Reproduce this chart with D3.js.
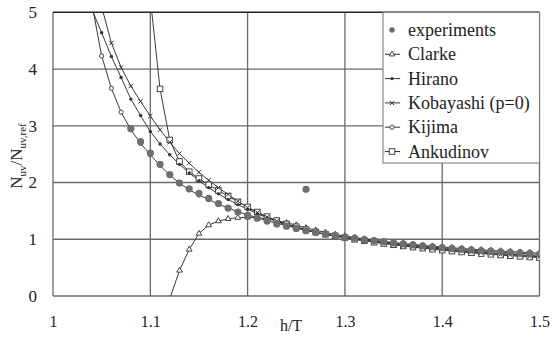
<!DOCTYPE html>
<html><head><meta charset="utf-8">
<script src="https://cdn.jsdelivr.net/npm/d3@7"></script>
<style>
html,body{margin:0;padding:0;background:#fff;}
svg{display:block;}
text{font-family:"Liberation Serif","DejaVu Serif",serif;fill:#222;}
</style></head>
<body>
<svg id="chart" width="553" height="342"></svg>
<script>
// ---- data ----
const hT = [1.04,1.05,1.06,1.07,1.08,1.09,1.10,1.11,1.12,1.13,
            1.14,1.15,1.16,1.17,1.18,1.19,1.20,1.21,1.22,1.23,
            1.24,1.25,1.26,1.27,1.28,1.29,1.30,1.31,1.32,1.33,
            1.34,1.35,1.36,1.37,1.38,1.39,1.40,1.41,1.42,1.43,
            1.44,1.45,1.46,1.47,1.48,1.49,1.50];
const experiments = [null,null,null,null,2.95,2.72,2.52,2.32,2.14,1.99,
  1.89,1.81,1.72,1.63,1.55,1.48,1.42,1.37,1.32,1.27,
  1.23,1.19,1.15,1.12,1.09,1.06,1.04,1.02,0.995,0.975,
  0.955,0.935,0.918,0.9,0.883,0.868,0.853,0.84,0.826,0.814,
  0.802,0.79,0.78,0.77,0.76,0.75,0.74];
const outlierH = [1.26];
const outlierN = [1.88];
const clarke = [null,null,null,null,null,null,null,null,-0.05,0.45,
  0.82,1.1,1.25,1.32,1.36,1.38,1.385,1.38,1.36,1.33,
  1.29,1.25,1.2,1.16,1.12,1.085,1.055,1.03,1.005,0.983,
  0.962,0.943,0.925,0.908,0.892,0.877,0.863,0.85,0.837,0.825,
  0.814,0.803,0.793,0.783,0.774,0.765,0.757];
const hirano = [5.05,4.64,4.22,3.85,3.47,3.18,2.9,2.68,2.49,2.32,
  2.17,2.03,1.91,1.8,1.7,1.61,1.53,1.45,1.38,1.31,
  1.25,1.2,1.16,1.12,1.085,1.055,1.03,1.005,0.98,0.958,
  0.937,0.917,0.898,0.88,0.862,0.845,0.83,0.815,0.8,0.786,
  0.773,0.76,0.748,0.736,0.725,0.714,0.704];
const kobayashi = [null,5.1,4.46,4.03,3.7,3.43,3.17,2.93,2.71,2.51,
  2.34,2.18,2.04,1.91,1.79,1.67,1.56,1.47,1.39,1.32,
  1.26,1.21,1.16,1.12,1.085,1.055,1.03,1.0,0.975,0.952,
  0.93,0.91,0.89,0.871,0.853,0.836,0.82,0.804,0.789,0.775,
  0.761,0.748,0.736,0.724,0.713,0.702,0.692];
const kijima = [5.15,4.23,3.66,3.24,2.93,2.69,2.49,2.3,2.13,1.99,
  1.87,1.78,1.7,1.62,1.55,1.49,1.43,1.38,1.33,1.28,
  1.24,1.2,1.16,1.12,1.09,1.06,1.04,1.015,0.99,0.97,
  0.95,0.93,0.91,0.895,0.878,0.862,0.847,0.833,0.82,0.807,
  0.795,0.783,0.772,0.762,0.752,0.743,0.735];
const ankudinov = [null,null,null,null,null,null,5.25,3.65,2.75,2.37,
  2.19,2.07,1.96,1.86,1.76,1.66,1.57,1.48,1.4,1.33,
  1.27,1.22,1.17,1.13,1.09,1.06,1.03,1.0,0.973,0.948,
  0.925,0.903,0.882,0.862,0.843,0.825,0.808,0.792,0.776,0.762,
  0.748,0.735,0.722,0.71,0.699,0.688,0.678];
const xTicks = [1,1.1,1.2,1.3,1.4,1.5];
const xTickLabels = ["1","1.1","1.2","1.3","1.4","1.5"];
const yTicks = [0,1,2,3,4,5];
const legendNames = ["experiments","Clarke","Hirano","Kobayashi (p=0)","Kijima","Ankudinov"];

// ---- layout ----
const FONT = "'Liberation Serif','DejaVu Serif',serif";
const svg = d3.select("#chart").attr("font-family",FONT);
const L = 53, R = 539.5, T = 12.3, B = 296;
const x = d3.scaleLinear().domain([1,1.5]).range([L,R]);
const y = d3.scaleLinear().domain([0,5]).range([B,T]);

svg.append("defs").append("clipPath").attr("id","clip")
  .append("rect").attr("x",L).attr("y",T).attr("width",R-L).attr("height",B-T);

// grid
const grid = svg.append("g");
grid.selectAll(".gx").data(xTicks).join("line")
  .attr("x1",d=>x(d)).attr("x2",d=>x(d)).attr("y1",T).attr("y2",B)
  .attr("stroke","#6a6a6a").attr("stroke-width",1.3);
grid.selectAll(".gy").data(yTicks).join("line")
  .attr("x1",L).attr("x2",R).attr("y1",d=>y(d)).attr("y2",d=>y(d))
  .attr("stroke",d=>d===5?"#222":"#6a6a6a").attr("stroke-width",d=>d===5?1.5:1.3);

// axes (labels only)
const xAxis = d3.axisBottom(x).tickValues(xTicks).tickSize(0).tickPadding(20)
  .tickFormat((d,i)=>xTickLabels[i]);
const gx = svg.append("g").attr("transform",`translate(0,${B})`).call(xAxis)
  .attr("font-family",FONT);
gx.select(".domain").remove();
gx.selectAll("text").attr("font-size",16).style("font-family",FONT).attr("fill","#222");
const yAxis = d3.axisLeft(y).tickValues(yTicks).tickSize(0).tickPadding(16).tickFormat(d3.format("d"));
const gy = svg.append("g").attr("transform",`translate(${L},0)`).call(yAxis)
  .attr("font-family",FONT);
gy.select(".domain").remove();
gy.selectAll("text").attr("font-size",17).style("font-family",FONT).attr("fill","#222");

// axis titles
svg.append("text").attr("x",291).attr("y",331).attr("text-anchor","middle")
  .attr("font-size",16).style("font-family",FONT).text("h/T");
const yt = svg.append("text").attr("transform","translate(22,156) rotate(-90)")
  .attr("text-anchor","middle").attr("font-size",17).style("font-family",FONT);
yt.append("tspan").text("N");
yt.append("tspan").attr("font-size",11).attr("dy",4).text("uv");
yt.append("tspan").attr("dy",-4).text("/N");
yt.append("tspan").attr("font-size",11).attr("dy",4).text("uv,ref");

// series
const plot = svg.append("g").attr("clip-path","url(#clip)");
const lineGen = d3.line().defined(d=>d[1]!==null).x(d=>x(d[0])).y(d=>y(d[1]));
function pts(vals){ return hT.map((h,i)=>[h,vals[i]]); }
function inside(d){ return d[1]!==null && d[1]>=0 && d[1]<=5; }

const marker = {
  triangle: (g)=>g.append("path").attr("d",d3.symbol(d3.symbolTriangle,14)()).attr("fill","#fff").attr("stroke","#333").attr("stroke-width",0.9),
  dot: (g)=>g.append("circle").attr("r",1.7).attr("fill","#333"),
  cross: (g)=>g.append("path").attr("d","M-2.1,-2.1L2.1,2.1M-2.1,2.1L2.1,-2.1").attr("stroke","#333").attr("stroke-width",1),
  circle: (g)=>g.append("circle").attr("r",2.1).attr("fill","#fff").attr("stroke","#333").attr("stroke-width",0.9),
  square: (g)=>g.append("rect").attr("x",-2.8).attr("y",-2.8).attr("width",5.6).attr("height",5.6).attr("fill","#fff").attr("stroke","#333").attr("stroke-width",0.9),
  grey: (g)=>g.append("circle").attr("r",3.6).attr("fill","#6f6f6f")
};

const series = [
  {vals:clarke, m:"triangle"},
  {vals:ankudinov, m:"square"},
  {vals:kobayashi, m:"cross"},
  {vals:hirano, m:"dot"},
  {vals:kijima, m:"circle"}
];
series.forEach(s=>{
  const data = pts(s.vals);
  plot.append("path").datum(data).attr("d",lineGen).attr("fill","none")
    .attr("stroke","#3a3a3a").attr("stroke-width",1);
});
series.forEach(s=>{
  plot.append("g").selectAll("g").data(pts(s.vals).filter(inside)).join("g")
    .attr("transform",d=>`translate(${x(d[0])},${y(d[1])})`).each(function(){ marker[s.m](d3.select(this)); });
});
// experiments on top
plot.append("g").selectAll("g").data(pts(experiments).filter(inside)).join("g")
  .attr("transform",d=>`translate(${x(d[0])},${y(d[1])})`).each(function(){ marker.grey(d3.select(this)); });
plot.append("g").selectAll("g").data(outlierH.map((h,i)=>[h,outlierN[i]])).join("g")
  .attr("transform",d=>`translate(${x(d[0])},${y(d[1])})`).each(function(){ marker.grey(d3.select(this)); });

// legend
const lg = svg.append("g");
lg.append("rect").attr("x",383).attr("y",T).attr("width",R-383).attr("height",163-T)
  .attr("fill","#fff").attr("stroke","#777").attr("stroke-width",1);
const legM = ["grey","triangle","dot","cross","circle","square"];
legendNames.forEach((n,i)=>{
  const cy = 30 + i*24.3;
  const g = lg.append("g");
  if(i>0){
    g.append("line").attr("x1",385).attr("x2",400).attr("y1",cy).attr("y2",cy)
      .attr("stroke","#333").attr("stroke-width",1);
  }
  const mg = g.append("g").attr("transform",`translate(392,${cy})`);
  if(i===0){ mg.append("circle").attr("r",2.8).attr("fill","#6f6f6f"); }
  else marker[legM[i]](mg);
  g.append("text").attr("x",408).attr("y",cy+6).attr("font-size",18).style("font-family",FONT).text(n);
});
</script>
</body></html>
